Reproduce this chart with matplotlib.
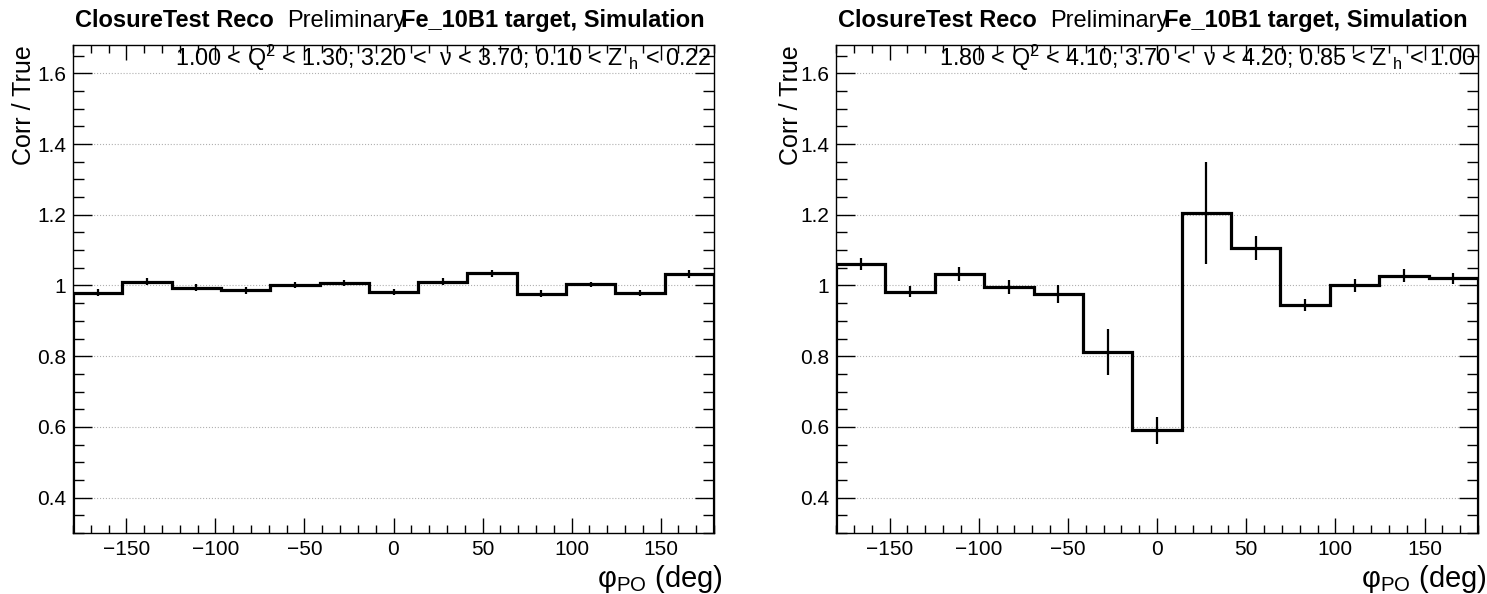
import numpy as np
import matplotlib
matplotlib.use("Agg")
import matplotlib.pyplot as plt
from matplotlib.ticker import MultipleLocator

plt.rcParams['font.family'] = ['Liberation Sans', 'DejaVu Sans']
plt.rcParams['mathtext.fontset'] = 'custom'
plt.rcParams['mathtext.rm'] = 'Liberation Sans'
plt.rcParams['mathtext.it'] = 'Liberation Sans:italic'
plt.rcParams['mathtext.bf'] = 'Liberation Sans:bold'

# binning in phi_PO (deg)
phi_min, phi_max, n_bins = -180, 180, 13

# left pad: 1.00 < Q2 < 1.30; 3.20 < nu < 3.70; 0.10 < Zh < 0.22
ratio_left = [0.979, 1.010, 0.994, 0.986, 1.002, 1.007, 0.982,
              1.010, 1.034, 0.977, 1.003, 0.979, 1.033]
err_left = [0.010, 0.010, 0.009, 0.009, 0.008, 0.009, 0.009,
            0.010, 0.009, 0.009, 0.008, 0.009, 0.011]

# right pad: 1.80 < Q2 < 4.10; 3.70 < nu < 4.20; 0.85 < Zh < 1.00
ratio_right = [1.060, 0.982, 1.033, 0.995, 0.975, 0.812, 0.590,
               1.205, 1.107, 0.945, 1.000, 1.028, 1.020]
err_right = [0.017, 0.016, 0.020, 0.020, 0.026, 0.064, 0.038,
             0.145, 0.034, 0.018, 0.019, 0.018, 0.015]

cuts_left = r"1.00 < Q$^{2}$ < 1.30; 3.20 <  ν < 3.70; 0.10 < Z $_{\rm h}$ < 0.22"
cuts_right = r"1.80 < Q$^{2}$ < 4.10; 3.70 <  ν < 4.20; 0.85 < Z $_{\rm h}$ < 1.00"

edges = np.linspace(phi_min, phi_max, n_bins + 1)
centers = 0.5 * (edges[:-1] + edges[1:])

W, H = 1487, 594
fig = plt.figure(figsize=(W / 100, H / 100), dpi=100)


def draw_pad(left_px, width_px, ratio, err, cuts, ylab_px):
    ax = fig.add_axes([left_px / W, 61 / H, width_px / W, 488 / H])
    ax.stairs(ratio, edges, color='black', linewidth=2.3, zorder=3)
    ax.errorbar(centers, ratio, yerr=err, fmt='none', ecolor='black',
                elinewidth=1.6, capsize=0, zorder=3)
    ax.set_xlim(phi_min, phi_max)
    ax.set_ylim(0.3, 1.68)
    ax.xaxis.set_major_locator(MultipleLocator(50))
    ax.xaxis.set_minor_locator(MultipleLocator(10))
    ax.yaxis.set_minor_locator(MultipleLocator(0.05))
    ax.set_yticks(np.arange(0.4, 1.61, 0.2))
    ax.set_yticklabels(['0.4', '0.6', '0.8', '1', '1.2', '1.4', '1.6'])
    ax.tick_params(which='both', direction='in', top=True, right=True,
                   labelsize=15, pad=5, width=1.0)
    ax.tick_params(axis='x', which='major', length=10.8)
    ax.tick_params(axis='x', which='minor', length=5.8)
    ax.tick_params(axis='y', which='major', length=13.7)
    ax.tick_params(axis='y', which='minor', length=7.7)
    ax.yaxis.grid(True, which='major', linestyle=':', color='#b0b0b0',
                  linewidth=0.8)
    ax.set_axisbelow(True)
    for s in ax.spines.values():
        s.set_linewidth(1.0)

    ax.set_xlabel("φ$_{\\rm PO}$ (deg)", fontsize=21, loc='right')
    ax.xaxis.label.set_va('baseline')
    ax.xaxis.set_label_coords(1 + 9 / width_px, -54 / 488)
    ax.set_ylabel("Corr / True", fontsize=18, loc='top')
    ax.yaxis.set_label_coords((ylab_px - left_px) / width_px, 1.0)

    ax.text(0.997, 1 - 21 / 488, cuts, transform=ax.transAxes, ha='right',
            va='baseline', fontsize=16.8)

    # pad title pieces
    ty = 1 - 27 / H
    fig.text((left_px + 2) / W, ty, "ClosureTest Reco", fontsize=17,
             fontweight='bold', va='baseline')
    fig.text((left_px + 214) / W, ty, "Preliminary", fontsize=17,
             va='baseline')
    fig.text((left_px + 328) / W, ty, "Fe_10B1 target, Simulation",
             fontsize=17, fontweight='bold', va='baseline')
    return ax


draw_pad(73, 641, ratio_left, err_left, cuts_left, 36)
draw_pad(836, 642, ratio_right, err_right, cuts_right, 803)

fig.savefig("out.png", dpi=100)
